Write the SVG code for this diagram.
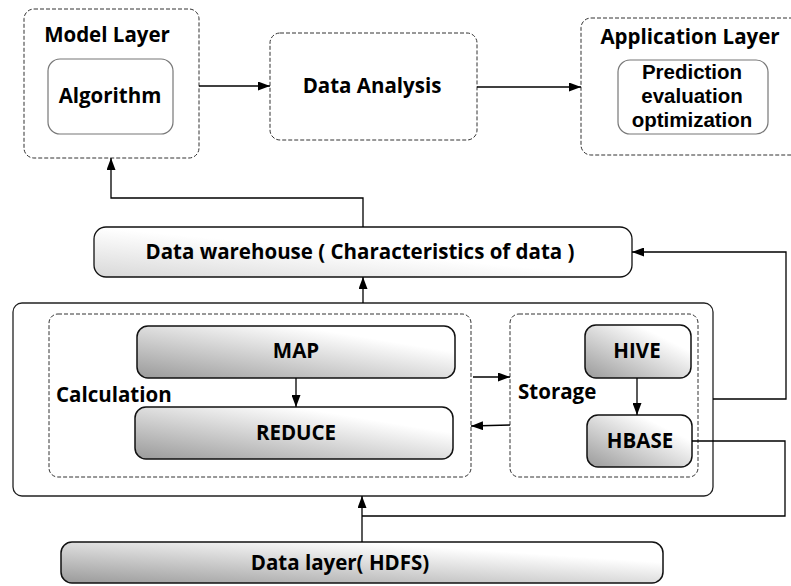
<svg xmlns="http://www.w3.org/2000/svg" width="791" height="586" viewBox="0 0 791 586">
<style>
text{font-family:"Open Sans","Noto Sans","DejaVu Sans",sans-serif;font-weight:bold;font-size:20.5px;fill:#000;text-anchor:middle}
.tight{font-family:"Liberation Sans","Open Sans",sans-serif;font-size:20.5px}
.dash{fill:#fff;stroke:#333;stroke-width:1;stroke-dasharray:4,2}
.solid{fill:#fff;stroke:#222;stroke-width:1.3}
.inner{fill:#fff;stroke:#777;stroke-width:1.2}
.gbox{fill:url(#g1);stroke:#111;stroke-width:1.5}
.wbox{fill:url(#g2);stroke:#111;stroke-width:1.3}
.line{fill:none;stroke:#000;stroke-width:1.3}
.l{text-anchor:start}
</style>
<defs>
<linearGradient id="g1" x1="0" y1="1" x2="1" y2="0">
<stop offset="0" stop-color="#9a9a9a"/>
<stop offset="0.75" stop-color="#ffffff"/>
</linearGradient>
<linearGradient id="g2" x1="0" y1="1" x2="1" y2="0">
<stop offset="0" stop-color="#d8d8d8"/>
<stop offset="0.5" stop-color="#ffffff"/>
</linearGradient>
<marker id="ah" markerWidth="12" markerHeight="9" refX="12" refY="4.5" orient="auto" markerUnits="userSpaceOnUse">
<path d="M0,0 L12,4.5 L0,9 Z" fill="#000"/>
</marker>
</defs>

<g id="model-layer">
<rect class="dash" x="24" y="9" width="175" height="149" rx="10"/>
<text x="107" y="42">Model Layer</text>
<rect class="inner" x="48" y="59" width="125" height="75" rx="12"/>
<text x="110" y="103">Algorithm</text>
</g>

<g id="data-analysis">
<rect class="dash" x="270" y="33" width="207" height="107" rx="10"/>
<text x="372" y="93">Data Analysis</text>
</g>

<g id="application-layer">
<rect class="dash" x="581" y="18" width="220" height="137" rx="10"/>
<text x="690" y="44">Application Layer</text>
<rect class="inner" x="618" y="60" width="150" height="74" rx="12"/>
<text class="tight" x="692" y="79">Prediction</text>
<text class="tight" x="692" y="103">evaluation</text>
<text class="tight" x="692" y="127">optimization</text>
</g>

<g id="data-warehouse">
<rect class="wbox" x="94" y="227" width="538" height="50" rx="12"/>
<text x="360" y="259">Data warehouse ( Characteristics of data )</text>
</g>

<g id="processing">
<rect class="solid" x="13" y="303" width="700" height="193" rx="9"/>
</g>

<g id="calculation">
<rect class="dash" x="49" y="314" width="422" height="163" rx="9"/>
<text class="l" x="56" y="402">Calculation</text>
</g>

<g id="map">
<rect class="gbox" x="137" y="326" width="318" height="52" rx="11"/>
<text x="296" y="358">MAP</text>
</g>

<g id="reduce">
<rect class="gbox" x="135" y="407" width="318" height="52" rx="11"/>
<text x="296" y="440">REDUCE</text>
</g>

<g id="storage">
<rect class="dash" x="510" y="314" width="188" height="163" rx="9"/>
<text class="l" x="518" y="399">Storage</text>
</g>

<g id="hive">
<rect class="gbox" x="585" y="325" width="106" height="53" rx="11"/>
<text x="637" y="358">HIVE</text>
</g>

<g id="hbase">
<rect class="gbox" x="587" y="415" width="105" height="52" rx="11"/>
<text x="640" y="448">HBASE</text>
</g>

<g id="data-layer">
<rect class="gbox" x="61" y="542" width="602" height="41" rx="11"/>
<text x="340" y="570">Data layer( HDFS)</text>
</g>

<g id="connectors">
<line class="line" x1="199" y1="86" x2="270" y2="86" marker-end="url(#ah)"/>
<line class="line" x1="477" y1="87" x2="581" y2="87" marker-end="url(#ah)"/>
<polyline class="line" points="363,227 363,198 111,198 111,158" marker-end="url(#ah)"/>
<line class="line" x1="363" y1="303" x2="363" y2="277" marker-end="url(#ah)"/>
<line class="line" x1="296" y1="378" x2="296" y2="407" marker-end="url(#ah)"/>
<line class="line" x1="637" y1="378" x2="637" y2="415" marker-end="url(#ah)"/>
<line class="line" x1="473" y1="377" x2="510" y2="377" marker-end="url(#ah)"/>
<line class="line" x1="510" y1="425" x2="471" y2="426" marker-end="url(#ah)"/>
<polyline class="line" points="713,399 786,399 786,252 632,252" marker-end="url(#ah)"/>
<polyline class="line" points="692,441 785,441 785,516 362,516"/>
<line class="line" x1="362" y1="542" x2="362" y2="496" marker-end="url(#ah)"/>
</g>
</svg>
